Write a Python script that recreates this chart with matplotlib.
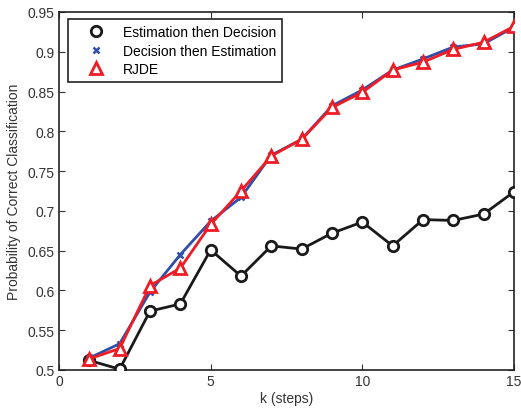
import matplotlib
matplotlib.use("Agg")
import matplotlib.pyplot as plt
from matplotlib.lines import Line2D

k = list(range(1, 16))
etd = [0.512, 0.501, 0.574, 0.583, 0.651, 0.618, 0.656, 0.652, 0.672, 0.686, 0.656, 0.689, 0.688, 0.696, 0.724]
dte = [0.515, 0.533, 0.598, 0.645, 0.687, 0.717, 0.770, 0.790, 0.832, 0.852, 0.877, 0.891, 0.906, 0.910, 0.931]
rjde = [0.514, 0.527, 0.606, 0.628, 0.683, 0.725, 0.769, 0.790, 0.830, 0.849, 0.877, 0.887, 0.903, 0.912, 0.932]
labels = ["Estimation then Decision", "Decision then Estimation", "RJDE"]
xticks = [0, 5, 10, 15]
yticks = [0.5, 0.55, 0.6, 0.65, 0.7, 0.75, 0.8, 0.85, 0.9, 0.95]

plt.rcParams['font.family'] = ['Liberation Sans', 'DejaVu Sans']
fig = plt.figure(figsize=(5.21, 4.14), dpi=100)
ax = fig.add_axes([0.1132, 0.1039, 0.8734, 0.8647])

black = '#1a1a1a'
blue = '#2f4fa8'
red = '#ee1c24'

ax.plot(k, etd, color=black, lw=2, marker='o', ms=7.5, mfc='white', mec=black, mew=2, zorder=3)
ax.plot(k, dte, color=blue, lw=2, marker='x', ms=5, mec=blue, mew=1.8, zorder=4)
ax.plot(k, rjde, color=red, lw=2, marker='^', ms=8, mfc='white', mec=red, mew=2, zorder=5)

ax.set_xlim(0, 15)
ax.set_ylim(0.5, 0.95)
ax.set_xticks(xticks)
ax.set_yticks(yticks)
ax.set_xticklabels([str(v) for v in xticks])
ax.set_yticklabels([f"{v:g}" for v in yticks])
ax.tick_params(direction='in', top=True, right=True, labelsize=10, length=4, width=0.8,
               colors='#333333', labelcolor='#333333', pad=3)
for s in ax.spines.values():
    s.set_linewidth(1.2)
    s.set_color('#222222')

ax.set_xlabel("k (steps)", fontsize=10, color='#333333', labelpad=2)
ax.set_ylabel("Probability of Correct Classification", fontsize=10, color='#333333', labelpad=5)

handles = [
    Line2D([], [], ls='none', marker='o', ms=7.5, mfc='white', mec=black, mew=2),
    Line2D([], [], ls='none', marker='x', ms=5, mec=blue, mew=1.8),
    Line2D([], [], ls='none', marker='^', ms=8, mfc='white', mec=red, mew=2),
]
leg = ax.legend(handles, labels, loc='upper left', bbox_to_anchor=(0.0198, 0.9804), fontsize=10,
                frameon=True, fancybox=False, edgecolor='#222222', framealpha=1,
                handlelength=3.2, handletextpad=0.3, borderpad=0.45, labelspacing=0.32,
                borderaxespad=0)
leg.get_frame().set_linewidth(1.2)
leg._legend_box.align = "left"

fig.canvas.draw()
bb = leg.get_frame().get_bbox()
# widen the frame slightly to the right to match the reference box
leg.get_frame().set_width(bb.width + 5)

fig.savefig("out.png", dpi=100)
